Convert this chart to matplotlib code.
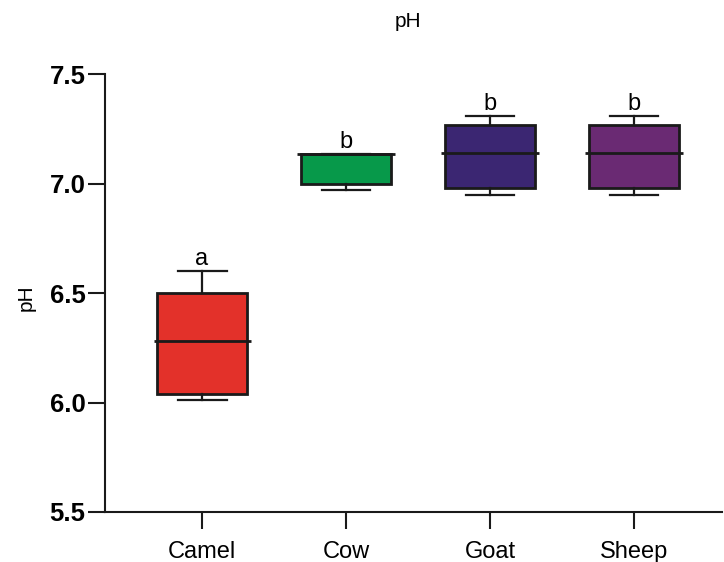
import matplotlib
matplotlib.use("Agg")
import matplotlib.pyplot as plt

plt.rcParams['font.family'] = ['Liberation Sans', 'DejaVu Sans']

categories = ["Camel", "Cow", "Goat", "Sheep"]
whislo = [6.01, 6.97, 6.95, 6.95]
q1 = [6.04, 7.00, 6.98, 6.98]
med = [6.28, 7.135, 7.14, 7.14]
q3 = [6.50, 7.135, 7.27, 7.27]
whishi = [6.60, 7.135, 7.31, 7.31]
letters = ["a", "b", "b", "b"]
colors = ["#E3312A", "#07994A", "#3B2672", "#6A2A73"]
yticks = [5.5, 6.0, 6.5, 7.0, 7.5]

fig = plt.figure(figsize=(7.24, 5.62), dpi=100)
ax = fig.add_axes([0.145, 0.089, 0.852, 0.779])

stats = []
for i, c in enumerate(categories):
    stats.append(dict(label=c, whislo=whislo[i], q1=q1[i], med=med[i],
                      q3=q3[i], whishi=whishi[i], fliers=[]))

positions = list(range(len(categories)))
bp = ax.bxp(stats, positions=positions, widths=0.63, patch_artist=True,
            showfliers=False,
            boxprops=dict(linewidth=2.0, edgecolor="#1a1a1a"),
            whiskerprops=dict(linewidth=1.6, color="#1a1a1a"),
            capprops=dict(linewidth=1.6, color="#1a1a1a"),
            medianprops=dict(linewidth=0))
for patch, col in zip(bp['boxes'], colors):
    patch.set_facecolor(col)
for cap in bp['caps']:
    x = cap.get_xdata()
    m = (x[0] + x[1]) / 2
    cap.set_xdata([m - 0.17, m + 0.17])

# median lines slightly wider than the boxes
for p, m in zip(positions, med):
    ax.hlines(m, p - 0.337, p + 0.337, color="#1a1a1a", linewidth=2.0, zorder=5)

for p, top, lab in zip(positions, whishi, letters):
    ax.text(p, top + 0.004, lab, ha="center", va="bottom", fontsize=17)

ax.set_ylim(5.5, 7.5)
ax.set_xlim(-0.674, 3.61)
ax.set_yticks(yticks)
ax.set_yticklabels([f"{v:.1f}" for v in yticks], fontsize=18.5, fontweight="bold")
ax.set_xticks(positions)
ax.set_xticklabels(categories, fontsize=17)
ax.tick_params(axis="both", direction="out", length=12, width=1.5, color="#1a1a1a")
ax.tick_params(axis="y", pad=2)
ax.tick_params(axis="x", pad=9)
for s in ["top", "right"]:
    ax.spines[s].set_visible(False)
for s in ["left", "bottom"]:
    ax.spines[s].set_linewidth(1.5)
    ax.spines[s].set_color("#1a1a1a")

fig.text(0.563, 0.962, "pH", ha="center", va="center", fontsize=15)
fig.text(0.036, 0.47, "pH", ha="center", va="center", rotation=90, fontsize=15)

fig.savefig("out.png", dpi=100)
